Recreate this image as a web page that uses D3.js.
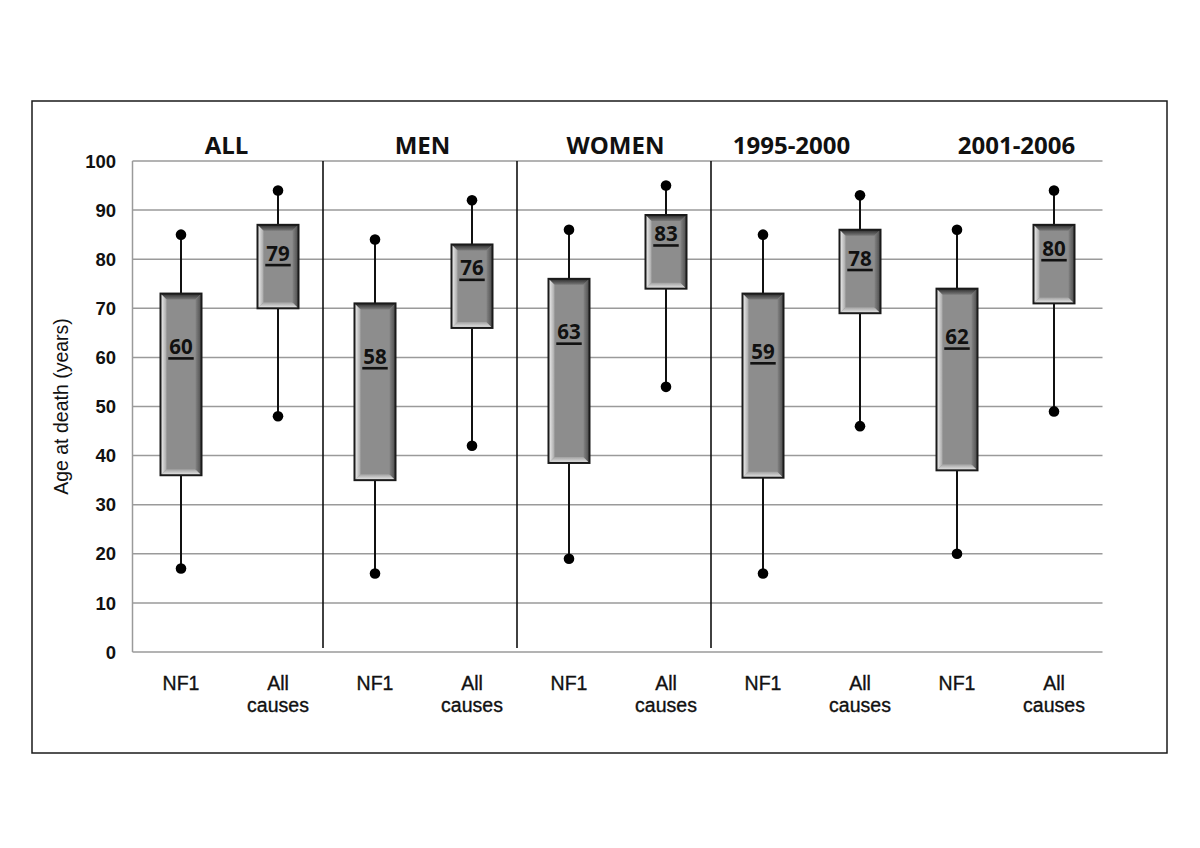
<!DOCTYPE html>
<html>
<head>
<meta charset="utf-8">
<script src="https://cdn.jsdelivr.net/npm/d3@7"></script>
<style>
  html, body { margin: 0; padding: 0; background: #fff; }
  svg { display: block; }
</style>
</head>
<body>
<svg id="chart" width="1200" height="848"></svg>
<script>
// ---- data ----
const groups = ["ALL", "MEN", "WOMEN", "1995-2000", "2001-2006"];
const categories = ["NF1", "All causes"];
const minValues    = [17, 48, 16, 42, 19, 54, 16, 46, 20, 49];
const q1Values     = [36, 70, 35, 66, 38.5, 74, 35.5, 69, 37, 71];
const medianValues = [60, 79, 58, 76, 63, 83, 59, 78, 62, 80];
const q3Values     = [73, 87, 71, 83, 76, 89, 73, 86, 74, 87];
const maxValues    = [85, 94, 84, 92, 86, 95, 85, 93, 86, 94];
const yTicks = [0, 10, 20, 30, 40, 50, 60, 70, 80, 90, 100];
const yTitle = "Age at death (years)";

(function () {
// ---- layout ----
const svg = d3.select("#chart");
const pLeft = 132.5, pRight = 1102.5, pTop = 161, pBottom = 652;

const keys = [];
groups.forEach((g, gi) => categories.forEach((c, ci) => keys.push(gi * 2 + ci)));

const x = d3.scaleBand().domain(keys).range([pLeft, pRight]).paddingInner(0).paddingOuter(0);
const y = d3.scaleLinear().domain([0, 100]).range([pBottom, pTop]);
const boxW = 41;

// outer frame
svg.append("rect").attr("x", 32).attr("y", 101).attr("width", 1135).attr("height", 652)
  .attr("fill", "none").attr("stroke", "#1a1a1a").attr("stroke-width", 1.5);

// gridlines
svg.append("g").selectAll("line").data(yTicks).join("line")
  .attr("x1", pLeft).attr("x2", pRight)
  .attr("y1", d => y(d)).attr("y2", d => y(d))
  .attr("stroke", "#9a9a9a").attr("stroke-width", 1.5);
// left axis line
svg.append("line").attr("x1", pLeft).attr("x2", pLeft).attr("y1", pTop).attr("y2", pBottom)
  .attr("stroke", "#9a9a9a").attr("stroke-width", 1.5);

// y tick labels
svg.append("g").selectAll("text").data(yTicks).join("text")
  .attr("x", 116).attr("y", d => y(d)).attr("dy", "0.36em")
  .attr("text-anchor", "end")
  .attr("font-family", "Liberation Sans, Arial, sans-serif")
  .attr("font-weight", "bold").attr("font-size", 18.5).attr("fill", "#111")
  .text(d => d);

// y title
svg.append("text")
  .attr("transform", `translate(68,${(pTop + pBottom) / 2}) rotate(-90)`)
  .attr("text-anchor", "middle")
  .attr("font-family", "Liberation Sans, Arial, sans-serif")
  .attr("font-size", 19.5).attr("fill", "#111")
  .text(yTitle);

// separators between groups
for (let gi = 1; gi < 4; gi++) {
  const sx = x(gi * 2) - 3.5;
  svg.append("line").attr("x1", sx).attr("x2", sx).attr("y1", pTop).attr("y2", pBottom - 4)
    .attr("stroke", "#111").attr("stroke-width", 1.6);
}

// group titles
const titleShift = [-3, -1, -2, -20, 11];
svg.append("g").selectAll("text").data(groups).join("text")
  .attr("x", (d, i) => x(i * 2 + 1) + titleShift[i])
  .attr("y", 154)
  .attr("text-anchor", "middle")
  .attr("font-family", "Open Sans, Lato, sans-serif")
  .attr("font-weight", "bold").attr("font-size", 24).attr("fill", "#111")
  .text(d => d);

// x category labels
const xl = svg.append("g");
keys.forEach(k => {
  const cx = x(k) + x.bandwidth() / 2;
  const cat = categories[k % 2];
  const t = xl.append("text").attr("x", cx).attr("text-anchor", "middle")
    .attr("font-family", "Liberation Sans, Arial, sans-serif")
    .attr("font-size", 19.5).attr("fill", "#111")
    .attr("stroke", "#111").attr("stroke-width", 0.35);
  if (cat === "NF1") {
    t.attr("y", 690).text(cat);
  } else {
    const parts = cat.split(" ");
    t.append("tspan").attr("x", cx).attr("y", 690).text(parts[0]);
    t.append("tspan").attr("x", cx).attr("y", 712).text(parts[1]);
  }
});

// gradients for bevel
const defs = svg.append("defs");
function grad(id, x1, y1, x2, y2, stops) {
  const g = defs.append("linearGradient").attr("id", id)
    .attr("x1", x1).attr("y1", y1).attr("x2", x2).attr("y2", y2);
  stops.forEach(s => g.append("stop").attr("offset", s[0]).attr("stop-color", s[1]));
}
grad("gTop", 0, 0, 0, 1, [[0, "#2a2a2a"], [1, "#7a7a7a"]]);
grad("gLeft", 0, 0, 1, 0, [[0, "#f4f4f4"], [1, "#a8a8a8"]]);
grad("gBottom", 0, 1, 0, 0, [[0, "#ececec"], [1, "#a0a0a0"]]);
grad("gRight", 1, 0, 0, 0, [[0, "#4a4a4a"], [1, "#838383"]]);

// whiskers and boxes
const marks = svg.append("g");
keys.forEach(k => {
  const cx = x(k) + x.bandwidth() / 2;
  const yMin = y(minValues[k]), yMax = y(maxValues[k]);
  const yQ1 = y(q1Values[k]), yQ3 = y(q3Values[k]), yMed = y(medianValues[k]);
  marks.append("line").attr("x1", cx).attr("x2", cx).attr("y1", yMax).attr("y2", yMin)
    .attr("stroke", "#111").attr("stroke-width", 2);
  marks.append("circle").attr("cx", cx).attr("cy", yMax).attr("r", 5.3).attr("fill", "#000");
  marks.append("circle").attr("cx", cx).attr("cy", yMin).attr("r", 5.3).attr("fill", "#000");

  const x0 = cx - boxW / 2, x1 = cx + boxW / 2, t = yQ3, b = yQ1, bv = 6;
  marks.append("rect").attr("x", x0).attr("y", t).attr("width", boxW).attr("height", b - t)
    .attr("fill", "#8d8d8d");
  const poly = (pts, fill) => marks.append("polygon")
    .attr("points", pts.map(p => p.join(",")).join(" ")).attr("fill", fill);
  poly([[x0, t], [x1, t], [x1 - bv, t + bv], [x0 + bv, t + bv]], "url(#gTop)");
  poly([[x0, b], [x1, b], [x1 - bv, b - bv], [x0 + bv, b - bv]], "url(#gBottom)");
  poly([[x0, t], [x0 + bv, t + bv], [x0 + bv, b - bv], [x0, b]], "url(#gLeft)");
  poly([[x1, t], [x1 - bv, t + bv], [x1 - bv, b - bv], [x1, b]], "url(#gRight)");
  marks.append("rect").attr("x", x0).attr("y", t).attr("width", boxW).attr("height", b - t)
    .attr("fill", "none").attr("stroke", "#1a1a1a").attr("stroke-width", 2);

  // median label
  const lab = marks.append("text").attr("x", cx).attr("y", yMed - 3.5)
    .attr("text-anchor", "middle")
    .attr("font-family", "Open Sans, Lato, sans-serif")
    .attr("font-weight", "bold").attr("font-size", 20.5).attr("fill", "#111")
    .text(medianValues[k]);
  const w = lab.node().getComputedTextLength();
  marks.append("line").attr("x1", cx - w / 2 - 1).attr("x2", cx + w / 2 + 1)
    .attr("y1", yMed + 1).attr("y2", yMed + 1)
    .attr("stroke", "#111").attr("stroke-width", 2.6);
});
})();
</script>
</body>
</html>
